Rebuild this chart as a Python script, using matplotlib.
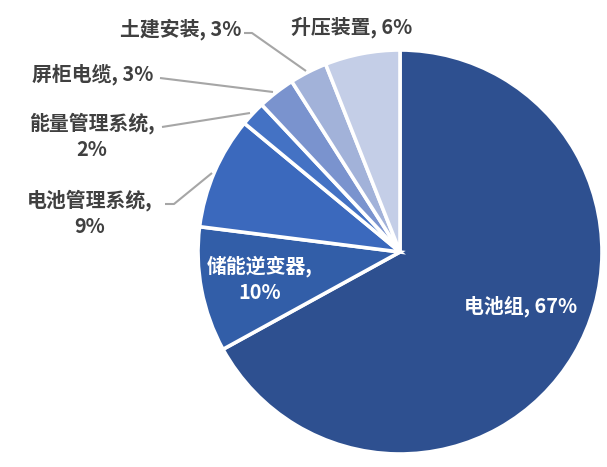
import matplotlib
matplotlib.use("Agg")
import matplotlib.pyplot as plt

plt.rcParams['font.family'] = ['Noto Sans CJK SC', 'DejaVu Sans']

categories = ["电池组", "储能逆变器", "电池管理系统", "能量管理系统", "屏柜电缆", "土建安装", "升压装置"]
values = [67, 10, 9, 2, 3, 3, 6]
colors = ["#2E5090", "#325EA8", "#3B69BD", "#4472C4", "#7A93CE", "#A2B2D9", "#C4CEE7"]

W, H = 607, 467
fig = plt.figure(figsize=(W / 100, H / 100), dpi=100)
ax = fig.add_axes([0, 0, 1, 1])

cx, cy, r = 400, H - 252, 202
ax.pie(values, colors=colors, startangle=90, counterclock=False,
       center=(cx, cy), radius=r, frame=True,
       wedgeprops=dict(edgecolor='white', linewidth=2.6))
ax.set_xlim(0, W)
ax.set_ylim(0, H)
ax.set_aspect('equal')
ax.axis('off')

txt = '#404040'
fs = 14.3
def lab(x, y, s, color=txt, ha='center'):
    ax.text(x, H - y, s, ha=ha, va='center', fontsize=fs, fontweight='bold',
            color=color, linespacing=1.3)

def lead(pts):
    xs = [p[0] for p in pts]
    ys = [H - p[1] for p in pts]
    ax.plot(xs, ys, color='#A6A6A6', lw=1.5, solid_capstyle='butt')

lab(521, 306, f"{categories[0]}, {values[0]}%", color='white')
lab(260, 279, f"{categories[1]},\n{values[1]}%", color='white')
lab(90, 213, f"{categories[2]},\n{values[2]}%")
lab(92, 136, f"{categories[3]},\n{values[3]}%")
lab(93, 74, f"{categories[4]}, {values[4]}%")
lab(181, 29, f"{categories[5]}, {values[5]}%")
lab(352, 27, f"{categories[6]}, {values[6]}%")

lead([(165, 204), (174, 204), (212, 173)])
lead([(162, 127), (250, 113)])
lead([(160, 78), (273, 92)])
lead([(244, 33), (252, 33), (306, 71)])

fig.savefig("out.png", dpi=100, facecolor='white')
